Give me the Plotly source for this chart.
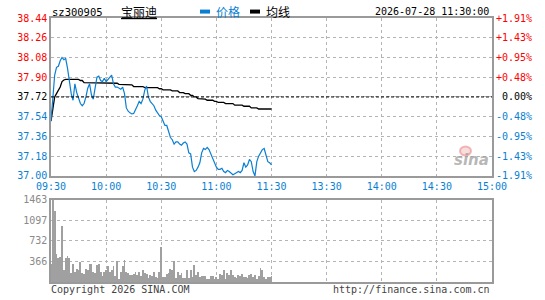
import plotly.graph_objects as go

# ---------------- data ----------------
price = [37.50, 37.70, 37.92, 37.99, 38.00, 38.05, 38.08, 38.06, 38.07, 37.98,
         37.85, 37.75, 37.69, 37.84, 37.76, 37.70, 37.66, 37.64, 37.66, 37.72,
         37.80, 37.84, 37.74, 37.70, 37.80, 37.90, 37.91, 37.87, 37.86, 37.89,
         37.86, 37.88, 37.89, 37.92, 37.84, 37.81, 37.81, 37.80, 37.79, 37.81,
         37.75, 37.62, 37.59, 37.575, 37.565, 37.57, 37.60, 37.64, 37.68, 37.66,
         37.70, 37.78, 37.82, 37.72, 37.68, 37.66, 37.64, 37.60, 37.57, 37.55,
         37.54, 37.50, 37.46, 37.46, 37.41, 37.35, 37.33, 37.29, 37.31, 37.31,
         37.29, 37.28, 37.30, 37.31, 37.29, 37.21, 37.20, 37.08, 37.04, 37.05,
         37.08, 37.12, 37.21, 37.25, 37.24, 37.26, 37.24, 37.20, 37.16, 37.12,
         37.08, 37.06, 37.06, 37.07, 37.04, 37.03, 37.05, 37.04, 37.02, 37.01,
         37.02, 37.03, 37.04, 37.03, 37.05, 37.12, 37.08, 37.10, 37.15, 37.13,
         37.04, 37.00, 37.13, 37.18, 37.21, 37.24, 37.25, 37.19, 37.13, 37.12,
         37.10]

avg = [37.50, 37.60, 37.72, 37.75, 37.78, 37.81, 37.86, 37.875, 37.88, 37.88,
       37.88, 37.88, 37.88, 37.88, 37.88, 37.88, 37.87, 37.87, 37.85, 37.85,
       37.85, 37.85, 37.85, 37.85, 37.85, 37.85, 37.85, 37.85, 37.85, 37.85,
       37.845, 37.845, 37.845, 37.845, 37.845, 37.845, 37.845, 37.835, 37.835, 37.835,
       37.835, 37.83, 37.83, 37.83, 37.83, 37.815, 37.815, 37.815, 37.815, 37.815,
       37.815, 37.805, 37.805, 37.805, 37.805, 37.805, 37.805, 37.805, 37.805, 37.795,
       37.795, 37.785, 37.785, 37.785, 37.785, 37.785, 37.775, 37.775, 37.775, 37.775,
       37.76, 37.76, 37.76, 37.75, 37.75, 37.75, 37.735, 37.735, 37.72, 37.72,
       37.705, 37.705, 37.70, 37.70, 37.70, 37.69, 37.69, 37.69, 37.69, 37.68,
       37.68, 37.67, 37.67, 37.67, 37.67, 37.66, 37.66, 37.66, 37.66, 37.66,
       37.645, 37.645, 37.645, 37.645, 37.645, 37.635, 37.635, 37.635, 37.635, 37.62,
       37.62, 37.62, 37.62, 37.61, 37.61, 37.61, 37.61, 37.61, 37.61, 37.61,
       37.61]

volume = [328, 1463, 1265, 504, 428, 457, 1002, 228, 428, 474,
          428, 158, 334, 176, 246, 228, 369, 170, 146, 246,
          211, 334, 334, 193, 158, 316, 334, 176, 105, 176,
          220, 299, 176, 228, 299, 105, 387, 59, 176, 299,
          404, 193, 158, 129, 123, 146, 193, 123, 176, 105,
          228, 158, 146, 70, 123, 105, 193, 94, 76, 193,
          621,
          94, 88, 141, 158, 246, 211, 387, 70, 193, 123,
          170, 70, 70, 211, 70, 228, 88, 316, 123, 193,
          88, 105, 105, 105, 53, 53, 105, 105, 59, 88,
          53, 141, 123, 228, 53, 158, 123, 211, 123, 88,
          70, 123, 105, 141, 88, 88, 70, 123, 141, 88,
          123, 53, 105, 264, 211, 88, 53, 88, 88, 105]

time_ticks = [0, 30, 60, 90, 120, 150, 180, 210, 240]
time_labels = ["09:30", "10:00", "10:30", "11:00", "11:30", "13:30", "14:00", "14:30", "15:00"]
prev_close = 37.72
price_ticks = [37.00, 37.18, 37.36, 37.54, 37.72, 37.90, 38.08, 38.26, 38.44]
pct_labels = ["-1.91%", "-1.43%", "-0.95%", "-0.48%", "\u00a00.00%", "+0.48%", "+0.95%", "+1.43%", "+1.91%"]
vol_ticks = [366, 732, 1097, 1463]
stock_code = "sz300905"
stock_name = "宝丽迪"
timestamp = "2026-07-28 11:30:00"

# ---------------- style ----------------
RED = "#ff0000"
BLUE = "#0a7fd2"
LINE_BLUE = "#0a7fd2"
GRID = "#b4b4b4"
BORDER = "#9a9a9a"
MONO = "DejaVu Sans Mono"
CJK = "Noto Sans CJK SC"

W, H = 545, 300
L, R, T, B = 51, 53, 18, 15
PW, PH = W - L - R, H - T - B


def px(x):
    return (x - L) / PW


def py(y):
    return (H - B - y) / PH


def colored(val, label):
    if abs(val - prev_close) < 1e-9:
        c = "#000000"
    elif val > prev_close:
        c = RED
    else:
        c = BLUE
    return f"<span style='color:{c}'>{label}</span>"


left_text = [colored(v, f"{v:.2f}") for v in price_ticks]
right_text = [colored(v, t) for v, t in zip(price_ticks, pct_labels)]

mins = list(range(len(price)))

fig = go.Figure()
fig.add_trace(go.Scatter(x=mins, y=avg, mode="lines", line=dict(color="#000000", width=1.3),
                         xaxis="x", yaxis="y", hoverinfo="skip", showlegend=False))
fig.add_trace(go.Scatter(x=mins, y=price, mode="lines", line=dict(color=LINE_BLUE, width=1.2),
                         xaxis="x", yaxis="y", showlegend=False))
fig.add_trace(go.Scatter(x=mins, y=price, mode="lines", line=dict(width=0), opacity=0,
                         xaxis="x", yaxis="y2", hoverinfo="skip", showlegend=False))
fig.add_trace(go.Bar(x=list(range(len(volume))), y=volume, width=0.5,
                     marker=dict(color="#a0a0a0", line=dict(width=0)),
                     xaxis="x2", yaxis="y3", showlegend=False))

price_dom = [py(177.7), 1.0]
vol_dom = [0.0, py(201.7)]

axis_common = dict(showgrid=True, gridcolor=GRID, griddash="dot", gridwidth=1,
                   showline=True, linecolor=BORDER, linewidth=1.5, mirror=True,
                   zeroline=False, ticks="", fixedrange=True)

fig.update_layout(
    width=W, height=H,
    margin=dict(l=L, r=R, t=T, b=B, pad=0),
    paper_bgcolor="white", plot_bgcolor="white",
    bargap=0,
    xaxis=dict(domain=[0, 1], anchor="y", range=[0, 240], tickvals=time_ticks, ticktext=time_labels,
               tickfont=dict(family=MONO, size=10, color=BLUE), **axis_common),
    yaxis=dict(domain=price_dom, anchor="x", range=[37.00, 38.44], tickvals=price_ticks,
               ticktext=left_text, tickfont=dict(family=MONO, size=10), **axis_common),
    yaxis2=dict(overlaying="y", anchor="x", side="right", range=[37.00, 38.44], tickvals=price_ticks,
                ticktext=right_text, tickfont=dict(family=MONO, size=10), showgrid=False,
                showline=False, zeroline=False, ticks="", fixedrange=True, ticklabelstandoff=3),
    xaxis2=dict(domain=[0, 1], anchor="y3", range=[0, 240], tickvals=time_ticks, showticklabels=False,
                **axis_common),
    yaxis3=dict(domain=vol_dom, anchor="x2", range=[0, 1463], tickvals=vol_ticks,
                tickfont=dict(family=MONO, size=10, color="#8a8a8a"), **axis_common),
    hovermode=False,
)

# previous close dashed line
fig.add_shape(type="line", xref="x", yref="y", x0=0, x1=240, y0=prev_close, y1=prev_close,
              line=dict(color="#000000", width=1, dash="3px,2px"), layer="above")

# title row
ty = py(11.5)
ann = [
    dict(x=px(50), y=ty, text=stock_code, xanchor="left", font=dict(family=MONO, size=10.5, color="#000")),
    dict(x=px(119), y=ty, text=f"<u>{stock_name}</u>", xanchor="left", font=dict(family=CJK, size=12, color="#000")),
    dict(x=px(214), y=ty, text="价格", xanchor="left", font=dict(family=CJK, size=12, color=BLUE)),
    dict(x=px(264), y=ty, text="均线", xanchor="left", font=dict(family=CJK, size=12, color="#000")),
    dict(x=px(491), y=ty, text=timestamp, xanchor="right", font=dict(family=MONO, size=10, color="#000")),
    dict(x=px(49), y=py(292.5), text="Copyright 2026 SINA.COM", xanchor="left",
         font=dict(family=MONO, size=10, color="#444")),
    dict(x=px(492), y=py(292.5), text="http://finance.sina.com.cn", xanchor="right",
         font=dict(family=MONO, size=10, color="#444")),
    dict(x=px(471), y=py(162), text="<b><i>sina</i></b>", xanchor="center",
         font=dict(family="DejaVu Sans", size=15, color="rgba(160,160,160,0.75)")),
]
for a in ann:
    a.update(xref="paper", yref="paper", yanchor="middle", showarrow=False)
fig.update_layout(annotations=ann)

# legend swatches
fig.add_shape(type="line", xref="paper", yref="paper", x0=px(200), x1=px(210), y0=ty, y1=ty,
              line=dict(color=LINE_BLUE, width=4))
fig.add_shape(type="line", xref="paper", yref="paper", x0=px(250), x1=px(260), y0=ty, y1=ty,
              line=dict(color="#000", width=4))
# watermark eye
fig.add_shape(type="circle", xref="paper", yref="paper", x0=px(460), x1=px(471), y0=py(157), y1=py(148),
              line=dict(color="rgba(230,120,120,0.5)", width=2), fillcolor="rgba(240,170,170,0.4)")

fig.write_html("out.html")
